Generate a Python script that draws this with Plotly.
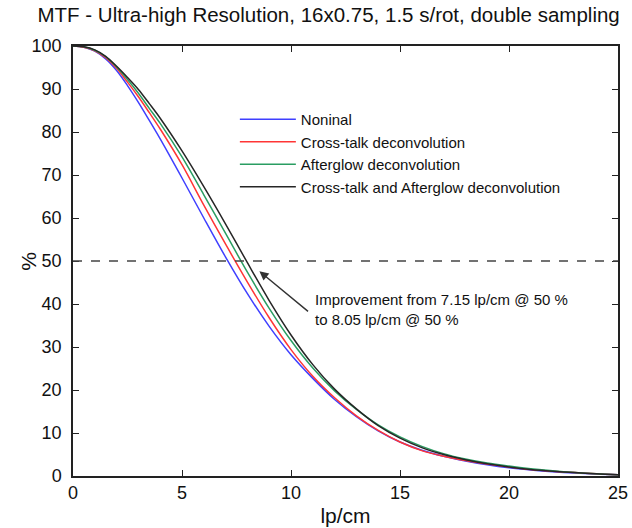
import plotly.graph_objects as go

lp_cm = [0, 0.5, 1, 1.5, 2, 2.5, 3, 3.5, 4, 5, 6, 7, 8, 9, 10, 11, 12, 13, 14, 15, 16, 17, 18, 19, 20, 21, 22, 23, 24, 25]
nominal = [100, 99.7, 98.8, 97.0, 94.3, 90.8, 86.9, 82.7, 78.4, 69.3, 60.0, 50.9, 42.4, 34.8, 28.2, 22.7, 17.8, 13.8, 10.5, 7.9, 6.0, 4.6, 3.5, 2.6, 1.9, 1.4, 1.0, 0.7, 0.45, 0.3]
crosstalk = [100, 99.7, 98.9, 97.3, 94.8, 91.6, 88.2, 84.5, 80.7, 72.4, 63.0, 53.9, 45.1, 36.8, 29.4, 23.2, 18.2, 14.0, 10.6, 7.9, 5.9, 4.6, 3.6, 2.8, 2.1, 1.5, 1.1, 0.8, 0.5, 0.3]
afterglow = [100, 99.8, 99.0, 97.5, 95.1, 92.2, 89.0, 85.5, 82.0, 74.2, 65.4, 56.4, 47.4, 39.0, 31.5, 25.1, 19.8, 15.5, 11.9, 9.1, 6.9, 5.2, 3.95, 3.0, 2.3, 1.7, 1.2, 0.8, 0.5, 0.3]
combined = [100, 99.8, 99.1, 97.6, 95.3, 92.7, 89.9, 86.6, 83.2, 75.6, 67.3, 58.6, 49.6, 40.8, 32.8, 25.9, 20.2, 15.6, 11.7, 8.8, 6.6, 5.0, 3.8, 2.85, 2.1, 1.5, 1.1, 0.8, 0.5, 0.3]

series_names = ["Noninal", "Cross-talk deconvolution", "Afterglow deconvolution",
                "Cross-talk and Afterglow deconvolution"]
series_values = [nominal, crosstalk, afterglow, combined]
series_colors = ["#3f3fff", "#ff3535", "#2a9d62", "#262626"]

threshold = 50
x_ticks = [0, 5, 10, 15, 20, 25]
y_ticks = [0, 10, 20, 30, 40, 50, 60, 70, 80, 90, 100]

FONT = "Liberation Sans, Arial, sans-serif"

fig = go.Figure()
for name, vals, col in zip(series_names, series_values, series_colors):
    fig.add_trace(go.Scatter(x=lp_cm, y=vals, mode="lines", name=name,
                             line=dict(color=col, width=1.5, shape="spline", smoothing=0.9)))

fig.add_shape(type="line", xref="paper", x0=0, x1=1, yref="y", y0=threshold, y1=threshold,
              line=dict(color="#444444", width=1.5, dash="dash"))

# arrow
fig.add_annotation(x=8.55, y=47.6, ax=10.85, ay=38.0, axref="x", ayref="y", xref="x", yref="y",
                   text="", showarrow=True, arrowhead=2, arrowsize=1.3, arrowwidth=1.4,
                   arrowcolor="#333333")
fig.add_annotation(x=11.0, y=38.8, xref="x", yref="y", xanchor="left", yanchor="middle",
                   align="left", showarrow=False,
                   text="Improvement from 7.15 lp/cm @ 50 %<br>to 8.05 lp/cm @ 50 %",
                   font=dict(family=FONT, size=15, color="#111111"))

# y-axis label
fig.add_annotation(x=-0.083, y=0.5, xref="paper", yref="paper", showarrow=False,
                   text="%", textangle=-90, xanchor="center", yanchor="middle",
                   font=dict(family=FONT, size=21, color="#111111"))

axis_common = dict(showline=True, linecolor="#222222", linewidth=1.5, mirror="ticks",
                   ticks="inside", ticklen=6, tickwidth=1.3, tickcolor="#222222",
                   showgrid=False, zeroline=False, automargin=False,
                   tickfont=dict(family=FONT, size=18, color="#111111"))

fig.update_layout(
    width=632, height=528,
    margin=dict(l=73, r=14, t=46, b=52),
    paper_bgcolor="white", plot_bgcolor="white",
    title=dict(text="MTF - Ultra-high Resolution, 16x0.75, 1.5 s/rot, double sampling",
               x=0.52, xanchor="center", y=0.971, yanchor="middle",
               font=dict(family=FONT, size=20.5, color="#111111")),
    xaxis=dict(range=[0, 25], tickvals=x_ticks,
               title=dict(text="lp/cm", standoff=6, font=dict(family=FONT, size=21, color="#111111")),
               **axis_common),
    yaxis=dict(range=[0, 100], tickvals=y_ticks, ticklabelstandoff=6, **axis_common),
    legend=dict(x=0.297, y=0.8675, xanchor="left", yanchor="top", bgcolor="rgba(0,0,0,0)",
                font=dict(family=FONT, size=15, color="#111111"), itemwidth=56,
                tracegroupgap=0),
    showlegend=True,
)

fig.write_html("out.html", config={"displayModeBar": False},
               post_script="document.body.style.margin='0';document.body.style.overflow='hidden';")
